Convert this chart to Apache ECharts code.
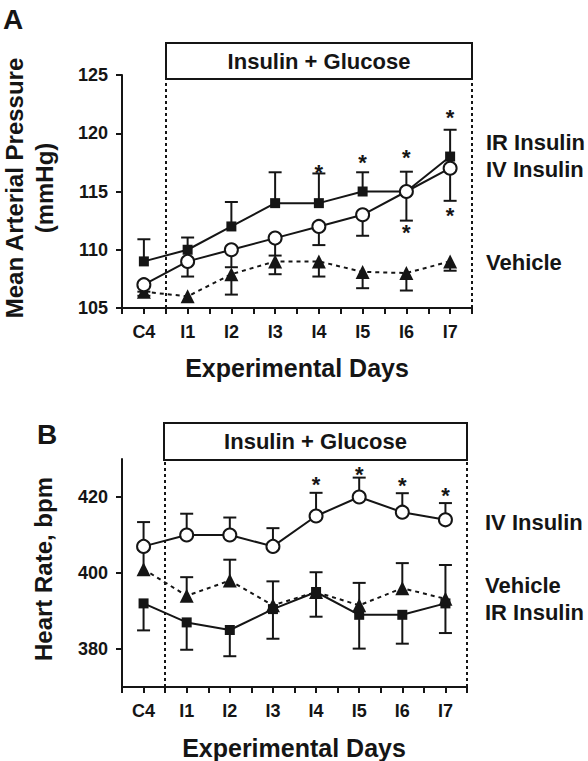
<!DOCTYPE html>
<html><head><meta charset="utf-8">
<script src="https://cdn.jsdelivr.net/npm/echarts@6/dist/echarts.min.js"></script>
<style>html,body{margin:0;padding:0;background:#fff}#c{width:588px;height:761px}</style>
</head><body><div id="c"></div>
<script>
// ---------- data ----------
const categories = ['C4','I1','I2','I3','I4','I5','I6','I7'];
// Panel A: mean arterial pressure (mmHg)
const mapIR     = [109, 110, 112, 114, 114, 115, 115, 118];
const mapIRErr  = [110.9, 111.05, 114.1, 116.65, 116.55, 116.65, 116.7, 120.3];
const mapIV     = [107, 109, 110, 111, 112, 113, 115, 117];
const mapIVErr  = [106.4, 107.7, 108.5, 109.5, 110.4, 111.2, 112.5, 114.2];
const mapVeh    = [106.4, 106, 107.9, 109, 109, 108.1, 108, 109];
const mapVehErr = [106.05, null, 106.15, 107.9, 107.7, 106.7, 106.5, 108.2];
const starsAx   = [4, 5, 6, 7, 6, 7];
const starsAy   = [117.0, 117.85, 118.3, 121.7, 111.85, 113.3];
// Panel B: heart rate (bpm)
const hrIV      = [407, 410, 410, 407, 415, 420, 416, 414];
const hrIVErr   = [413.4, 415.6, 414.6, 411.8, 421.1, 425.1, 421, 418.4];
const hrVeh     = [401, 394, 398, 391.5, 395, 391.5, 396, 393.2];
const hrVehErr  = [406.2, 398.9, 403.5, 397.8, 400.2, 397.4, 402.6, 402.1];
const hrIR      = [392, 387, 385, 390.5, 395, 389, 389, 392];
const hrIRErr   = [384.9, 379.8, 378.1, 382.7, 388.5, 380.1, 381.4, 384.2];
const starsBx   = [4, 5, 6, 7];
const starsBy   = [424.4, 427, 424, 421.4];
const yTicksA   = [105, 110, 115, 120, 125];
const yTicksB   = [380, 400, 420];

// ---------- helpers ----------
const INK = '#151515';
const FONT = 'Liberation Sans, Arial, sans-serif';
const pairs = vals => vals.map((v, i) => [i, v]);
function errData(vals, ends) {
  const out = [];
  vals.forEach((v, i) => { if (ends[i] != null) out.push([i, v, ends[i]]); });
  return out;
}
function errSeries(vals, ends, gi) {
  return {
    type: 'custom', xAxisIndex: gi, yAxisIndex: gi, z: 2, silent: true,
    data: errData(vals, ends),
    renderItem: (params, api) => {
      const x = api.value(0), p1 = api.coord([x, api.value(1)]), p2 = api.coord([x, api.value(2)]);
      const st = { stroke: INK, lineWidth: 2 };
      return { type: 'group', children: [
        { type: 'line', shape: { x1: p1[0], y1: p1[1], x2: p2[0], y2: p2[1] }, style: st },
        { type: 'line', shape: { x1: p2[0] - 6.5, y1: p2[1], x2: p2[0] + 6.5, y2: p2[1] }, style: st }
      ]};
    }
  };
}
function starSeries(xs, ys, gi) {
  return {
    type: 'custom', xAxisIndex: gi, yAxisIndex: gi, z: 6, silent: true,
    data: xs.map((x, i) => [x, ys[i]]),
    renderItem: (params, api) => {
      const p = api.coord([api.value(0), api.value(1)]);
      return { type: 'text', x: p[0], y: p[1] + 4,
        style: { text: '*', fill: INK, font: 'bold 22px ' + FONT, align: 'center', verticalAlign: 'middle' } };
    }
  };
}
function lineSeries(vals, gi, kind, z, dotted) {
  const sym = kind === 'sq' ? 'rect' : kind === 'ci' ? 'circle' : 'triangle';
  const size = kind === 'sq' ? 10 : kind === 'ci' ? 13 : 14;
  return {
    type: 'line', xAxisIndex: gi, yAxisIndex: gi, z: z, silent: true,
    data: pairs(vals), symbol: sym, symbolSize: size, showAllSymbol: true,
    lineStyle: { color: INK, width: 2, type: dotted ? [4, 4] : 'solid' },
    itemStyle: { color: kind === 'ci' ? '#fff' : INK, borderColor: INK, borderWidth: kind === 'ci' ? 2 : 0 },
    animation: false
  };
}
function boundaryLines(gi) {
  return {
    type: 'line', xAxisIndex: gi, yAxisIndex: gi, data: [], silent: true,
    markLine: { symbol: 'none', silent: true, label: { show: false },
      lineStyle: { color: INK, width: 2, type: [3, 3], opacity: 1 },
      emphasis: { disabled: true },
      data: [{ xAxis: 0.5 }, { xAxis: 7.5 }] }
  };
}
function xAxisDef(gi) {
  return {
    type: 'value', gridIndex: gi, min: -0.5, max: 7.5, interval: 0.5,
    splitLine: { show: false },
    axisLine: { onZero: false, lineStyle: { color: INK, width: 2 } },
    axisTick: { length: 6, lineStyle: { color: INK, width: 2 } },
    axisLabel: { color: INK, fontFamily: FONT, fontWeight: 'bold', fontSize: 18, margin: 15,
      showMinLabel: true, showMaxLabel: true,
      formatter: v => Number.isInteger(v) ? categories[v] : '' }
  };
}
function yAxisDef(gi, min, max, ticks) {
  return {
    type: 'value', gridIndex: gi, min: min, max: max,
    splitLine: { show: false },
    axisLine: { show: true, onZero: false, lineStyle: { color: INK, width: 2 } },
    axisTick: { show: true, length: 6, customValues: ticks, lineStyle: { color: INK, width: 2 } },
    axisLabel: { color: INK, fontFamily: FONT, fontWeight: 'bold', fontSize: 18, margin: 14, customValues: ticks }
  };
}
function txt(x, y, text, size, align, rot) {
  return { type: 'text', x: x, y: y, rotation: rot || 0, z: 10,
    style: { text: text, fill: INK, font: 'bold ' + size + 'px ' + FONT, textAlign: align || 'left', textVerticalAlign: 'middle' } };
}
function box(x, y, w, h, label) {
  return [
    { type: 'rect', shape: { x: x, y: y, width: w, height: h }, z: 9,
      style: { fill: '#fff', stroke: INK, lineWidth: 2 } },
    txt(x + w / 2, y + h / 2, label, 22, 'center')
  ];
}

const chart = echarts.init(document.getElementById('c'), null, { renderer: 'svg' });
chart.setOption({
  backgroundColor: '#fff',
  animation: false,
  grid: [
    { left: 122, top: 75, width: 350, height: 233 },
    { left: 122, top: 459, width: 345, height: 228 }
  ],
  xAxis: [xAxisDef(0), xAxisDef(1)],
  yAxis: [
    Object.assign(yAxisDef(0, 105, 125, yTicksA), { interval: 5 }),
    yAxisDef(1, 370, 430, yTicksB)
  ],
  series: [
    boundaryLines(0), boundaryLines(1),
    errSeries(mapIR, mapIRErr, 0), errSeries(mapIV, mapIVErr, 0), errSeries(mapVeh, mapVehErr, 0),
    lineSeries(mapVeh, 0, 'tr', 3, true),
    lineSeries(mapIR, 0, 'sq', 4, false),
    lineSeries(mapIV, 0, 'ci', 5, false),
    starSeries(starsAx, starsAy, 0),
    errSeries(hrIR, hrIRErr, 1), errSeries(hrIV, hrIVErr, 1), errSeries(hrVeh, hrVehErr, 1),
    lineSeries(hrIR, 1, 'sq', 3, false),
    lineSeries(hrVeh, 1, 'tr', 4, true),
    lineSeries(hrIV, 1, 'ci', 5, false),
    starSeries(starsBx, starsBy, 1)
  ],
  graphic: [
    txt(3, 19, 'A', 28),
    txt(37, 434, 'B', 28),
    ...box(166, 43, 306, 36, 'Insulin + Glucose'),
    ...box(164, 423, 303, 37, 'Insulin + Glucose'),
    txt(14, 188, 'Mean Arterial Pressure', 24, 'center', Math.PI / 2),
    txt(44, 188, '(mmHg)', 24, 'center', Math.PI / 2),
    txt(43, 569, 'Heart Rate, bpm', 24, 'center', Math.PI / 2),
    txt(297, 368, 'Experimental Days', 25, 'center'),
    txt(294, 748, 'Experimental Days', 25, 'center'),
    txt(486, 142, 'IR Insulin', 22),
    txt(486, 169, 'IV Insulin', 22),
    txt(486, 262, 'Vehicle', 22),
    txt(485, 522, 'IV Insulin', 22),
    txt(485, 585, 'Vehicle', 22),
    txt(485, 612, 'IR Insulin', 22)
  ]
});
</script></body></html>
